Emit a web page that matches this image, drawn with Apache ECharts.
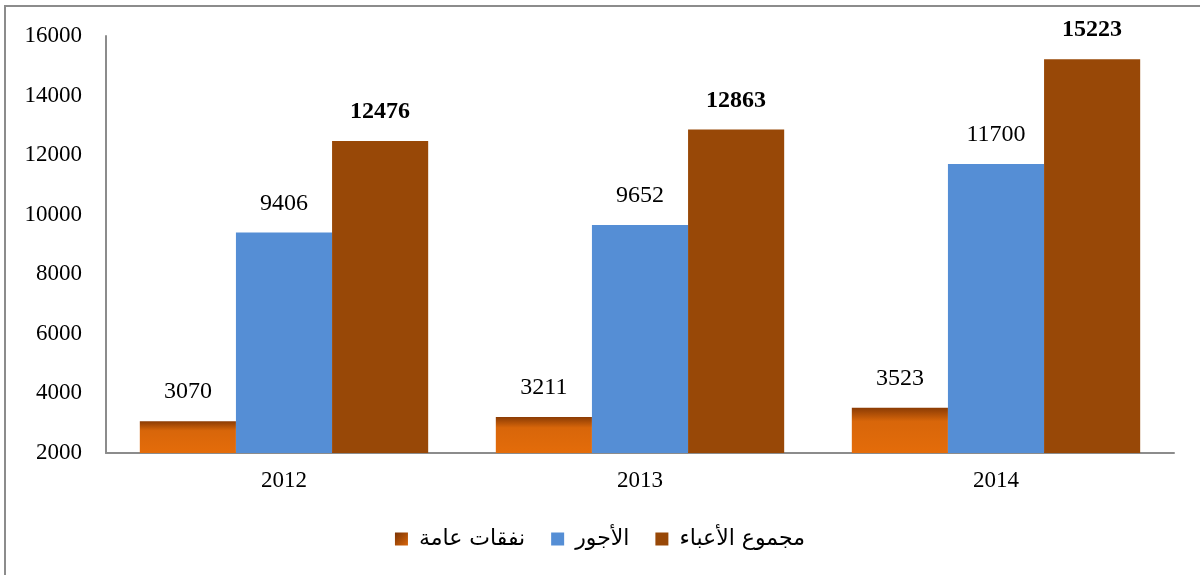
<!DOCTYPE html>
<html>
<head>
<meta charset="utf-8">
<script src="https://cdn.jsdelivr.net/npm/echarts@6/dist/echarts.min.js"></script>
<style>
  html, body { margin: 0; padding: 0; background: #fff; }
  #chart { width: 1200px; height: 575px; }
</style>
</head>
<body>
<div id="chart"></div>
<script>
// البيانات
var years = ['2012', '2013', '2014'];
var nafaqat = [3070, 3211, 3523];      // نفقات عامة
var ujur = [9406, 9652, 11700];        // الأجور
var majmou = [12476, 12863, 15223];    // مجموع الأعباء
var yTicks = [2000, 4000, 6000, 8000, 10000, 12000, 14000, 16000];

var chart = echarts.init(document.getElementById('chart'));
var serif = '"Liberation Serif", "DejaVu Serif", serif';

// orange bar with dark shaded top edge
var orangeFill = new echarts.graphic.LinearGradient(0, 0, 0, 1, [
  { offset: 0, color: '#8a3b04' },
  { offset: 0.3, color: '#d8660a' },
  { offset: 1, color: '#e46c0a' }
]);
var legendOrange = new echarts.graphic.LinearGradient(0, 0, 1, 1, [
  { offset: 0, color: '#7a3304' },
  { offset: 1, color: '#d8660a' }
]);

function lbl(bold) {
  return {
    show: true,
    position: 'top',
    distance: 17,
    color: '#000',
    fontFamily: serif,
    fontSize: 24,
    fontWeight: bold ? 'bold' : 'normal'
  };
}

var option = {
  backgroundColor: '#ffffff',
  animation: false,
  graphic: [{
    type: 'rect',
    shape: { x: 5, y: 6, width: 1250, height: 650 },
    style: { fill: 'none', stroke: '#8c8c8c', lineWidth: 2 },
    silent: true
  }],
  grid: { left: 106, right: 26, top: 36, bottom: 122 },
  legend: {
    bottom: 20,
    left: 'center',
    icon: 'rect',
    itemWidth: 13,
    itemHeight: 13,
    itemGap: 26,
    textStyle: {
      fontFamily: '"DejaVu Sans", sans-serif', fontSize: 22, color: '#000',
      padding: [0, 0, 0, 6]
    },
    data: [
      { name: 'نفقات عامة', itemStyle: { color: legendOrange } },
      'الأجور',
      'مجموع الأعباء'
    ]
  },
  xAxis: {
    type: 'category',
    data: years,
    axisLine: { lineStyle: { color: '#8c8c8c', width: 2 } },
    axisTick: { show: false },
    axisLabel: { color: '#000', fontFamily: serif, fontSize: 23, margin: 16 }
  },
  yAxis: {
    type: 'value',
    min: yTicks[0],
    max: yTicks[yTicks.length - 1],
    interval: 2000,
    axisLine: { show: true, lineStyle: { color: '#8c8c8c', width: 2 } },
    axisTick: { show: false },
    splitLine: { show: false },
    axisLabel: {
      color: '#000', fontFamily: serif, fontSize: 23, margin: 24,
      formatter: function (v) { return String(v); }
    }
  },
  series: [
    {
      name: 'نفقات عامة',
      type: 'bar',
      data: nafaqat,
      barGap: '0%',
      barCategoryGap: '19%',
      itemStyle: { color: orangeFill },
      label: lbl(false)
    },
    {
      name: 'الأجور',
      type: 'bar',
      data: ujur,
      barGap: '0%',
      barCategoryGap: '19%',
      itemStyle: { color: '#558ed5' },
      label: lbl(false)
    },
    {
      name: 'مجموع الأعباء',
      type: 'bar',
      data: majmou,
      barGap: '0%',
      barCategoryGap: '19%',
      itemStyle: { color: '#984807' },
      label: lbl(true)
    }
  ]
};

chart.setOption(option);
</script>
</body>
</html>
